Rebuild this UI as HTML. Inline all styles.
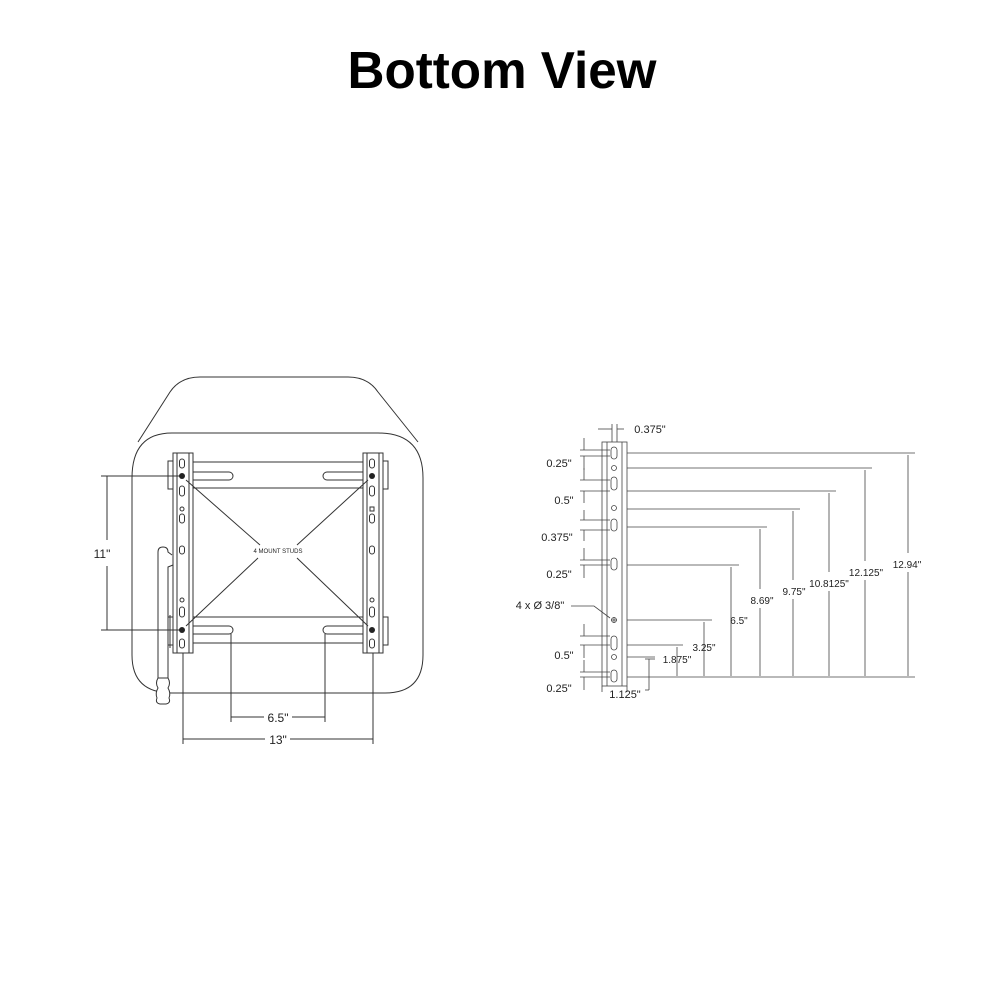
<!DOCTYPE html>
<html><head><meta charset="utf-8"><style>
html,body{margin:0;padding:0;background:#fff;}
svg{display:block;}
text{font-family:"Liberation Sans",sans-serif;fill:#222;}
</style></head><body>
<svg width="1000" height="1000" viewBox="0 0 1000 1000" xmlns="http://www.w3.org/2000/svg">
<text x="502" y="88" font-size="52" font-weight="bold" text-anchor="middle" textLength="309" lengthAdjust="spacingAndGlyphs" style="fill:#000">Bottom View</text>

<g fill="none" stroke="#333" stroke-width="1">
<!-- back shape -->
<path d="M138,442 L170,392 Q180,377 200,377 L348,377 Q368,377 378,392 L418,442"/>
<!-- front rounded body -->
<path d="M182,433 L378,433 Q423,433 423,478 L423,655 Q423,693 385,693 L172,693 Q132,693 132,655 L132,478 Q132,433 172,433 Z"/>
<!-- rails -->
<line x1="193" y1="462" x2="363" y2="462"/>
<line x1="193" y1="488" x2="363" y2="488"/>
<line x1="193" y1="617" x2="363" y2="617"/>
<line x1="193" y1="643" x2="363" y2="643"/>
<!-- slots top -->
<path d="M193,472 L229,472 A4,4 0 0 1 229,480 L193,480"/>
<path d="M363,472 L327,472 A4,4 0 0 0 327,480 L363,480"/>
<!-- slots bottom -->
<path d="M193,626 L229,626 A4,4 0 0 1 229,634 L193,634"/>
<path d="M363,626 L327,626 A4,4 0 0 0 327,634 L363,634"/>
<!-- side tabs -->
<rect x="168" y="461" width="5" height="28"/>
<rect x="383" y="461" width="5" height="28"/>
<rect x="168" y="617" width="5" height="28"/>
<rect x="383" y="617" width="5" height="28"/>
<!-- brackets -->
<rect x="173" y="453" width="20" height="200"/>
<line x1="177" y1="453" x2="177" y2="653"/><line x1="189" y1="453" x2="189" y2="653"/>
<rect x="363" y="453" width="20" height="200"/>
<line x1="367" y1="453" x2="367" y2="653"/><line x1="379" y1="453" x2="379" y2="653"/>
<!-- bracket holes -->
<g>
<rect x="179.5" y="459" width="5" height="9" rx="2.5"/>
<rect x="179.5" y="486" width="5" height="10" rx="2.5"/>
<circle cx="182" cy="509" r="2"/>
<rect x="179.5" y="514" width="5" height="9" rx="2.5"/>
<rect x="179.5" y="546" width="5" height="8" rx="2.5"/>
<circle cx="182" cy="600" r="2"/>
<rect x="179.5" y="607" width="5" height="10" rx="2.5"/>
<rect x="179.5" y="639" width="5" height="9" rx="2.5"/>
<rect x="369.5" y="459" width="5" height="9" rx="2.5"/>
<rect x="369.5" y="486" width="5" height="10" rx="2.5"/>
<rect x="370" y="507" width="4" height="4"/>
<rect x="369.5" y="514" width="5" height="9" rx="2.5"/>
<rect x="369.5" y="546" width="5" height="8" rx="2.5"/>
<circle cx="372" cy="600" r="2"/>
<rect x="369.5" y="607" width="5" height="10" rx="2.5"/>
<rect x="369.5" y="639" width="5" height="9" rx="2.5"/>
</g>
<!-- X lines -->
<line x1="186" y1="480" x2="260" y2="545"/>
<line x1="368" y1="480" x2="297" y2="545"/>
<line x1="186" y1="626" x2="258" y2="558"/>
<line x1="368" y1="626" x2="297" y2="558"/>
<!-- lever -->
<path d="M158,700 L158,552 Q158,547 163,547 Q168,547 168,552 L172,555"/>
<path d="M168,700 L168,567 L173,565"/>
<line x1="170" y1="615" x2="170" y2="648"/>
<path d="M158,678 Q155,683 158,688 Q155,693 157,698 Q155,703 160,704 L166,704 Q171,703 169,698 Q171,693 168,688 Q171,683 168,678 Z" fill="#fff"/>
<!-- dim 11 -->
<line x1="101" y1="476" x2="180" y2="476"/>
<line x1="101" y1="630" x2="180" y2="630"/>
<line x1="107" y1="476" x2="107" y2="540"/>
<line x1="107" y1="566" x2="107" y2="630"/>
<!-- dim 6.5 and 13 -->
<line x1="231" y1="634" x2="231" y2="722"/>
<line x1="325" y1="634" x2="325" y2="722"/>
<line x1="231" y1="717" x2="264" y2="717"/>
<line x1="292" y1="717" x2="325" y2="717"/>
<line x1="183" y1="653" x2="183" y2="744"/>
<line x1="373" y1="653" x2="373" y2="744"/>
<line x1="183" y1="739" x2="265" y2="739"/>
<line x1="290" y1="739" x2="373" y2="739"/>
</g>
<g fill="#222" stroke="none">
<circle cx="182" cy="476" r="3"/><circle cx="182" cy="630" r="3"/>
<circle cx="372" cy="476" r="3"/><circle cx="372" cy="630" r="3"/>
</g>
<text x="278" y="553" font-size="6" text-anchor="middle">4 MOUNT STUDS</text>
<text x="107" y="558" font-size="12" text-anchor="middle" style="fill:#fff;stroke:none">.</text>
<text x="102" y="558" font-size="12" text-anchor="middle">11"</text>
<text x="278" y="722" font-size="12" text-anchor="middle">6.5"</text>
<text x="278" y="744" font-size="12" text-anchor="middle">13"</text>

<!-- RIGHT DIAGRAM -->
<g fill="none" stroke="#444" stroke-width="0.8">
<rect x="602" y="442" width="25" height="244"/>
<line x1="607" y1="442" x2="607" y2="686"/><line x1="622" y1="442" x2="622" y2="686"/>
<line x1="612" y1="424" x2="612" y2="442"/><line x1="617" y1="424" x2="617" y2="442"/>
<line x1="598" y1="429" x2="612" y2="429"/><line x1="617" y1="429" x2="624" y2="429"/>
<rect x="611" y="447" width="6" height="12" rx="3"/>
<circle cx="614" cy="468" r="2.5"/>
<rect x="611" y="477" width="6" height="13" rx="3"/>
<circle cx="614" cy="508" r="2.5"/>
<rect x="611" y="519" width="6" height="12" rx="3"/>
<rect x="611" y="558" width="6" height="12" rx="3"/>
<circle cx="614" cy="620" r="2.5"/>
<line x1="611" y1="620" x2="617" y2="620"/><line x1="614" y1="617" x2="614" y2="623"/>
<rect x="611" y="636" width="6" height="14" rx="3"/>
<circle cx="614" cy="657" r="2.5"/>
<rect x="611" y="670" width="6" height="12" rx="3"/>
<!-- horizontal ref lines -->
<line x1="627" y1="453" x2="915" y2="453"/>
<line x1="627" y1="468" x2="872" y2="468"/>
<line x1="627" y1="491" x2="836" y2="491"/>
<line x1="627" y1="509" x2="800" y2="509"/>
<line x1="627" y1="527" x2="767" y2="527"/>
<line x1="627" y1="565" x2="739" y2="565"/>
<line x1="627" y1="620" x2="712" y2="620"/>
<line x1="627" y1="645" x2="683" y2="645"/>
<line x1="627" y1="657" x2="655" y2="657"/>
<line x1="627" y1="677" x2="915" y2="677"/>
<!-- vertical dim lines -->
<line x1="908" y1="455" x2="908" y2="553"/><line x1="908" y1="572" x2="908" y2="676"/>
<line x1="865" y1="470" x2="865" y2="561"/><line x1="865" y1="580" x2="865" y2="676"/>
<line x1="829" y1="493" x2="829" y2="572"/><line x1="829" y1="591" x2="829" y2="676"/>
<line x1="793" y1="511" x2="793" y2="580"/><line x1="793" y1="599" x2="793" y2="676"/>
<line x1="760" y1="529" x2="760" y2="589"/><line x1="760" y1="608" x2="760" y2="676"/>
<line x1="731" y1="567" x2="731" y2="676"/>
<line x1="704" y1="622" x2="704" y2="676"/>
<line x1="677" y1="647" x2="677" y2="676"/>
<line x1="649" y1="659" x2="649" y2="690"/><line x1="645" y1="659" x2="655" y2="659"/>
<line x1="649" y1="690" x2="645" y2="690"/>
<!-- left pitch ticks -->
<g>
<line x1="580" y1="450" x2="610" y2="450"/><line x1="580" y1="456" x2="610" y2="456"/>
<line x1="584" y1="438" x2="584" y2="450"/><line x1="584" y1="456" x2="584" y2="470"/>
<line x1="580" y1="480" x2="610" y2="480"/><line x1="580" y1="491" x2="610" y2="491"/>
<line x1="584" y1="468" x2="584" y2="480"/><line x1="584" y1="491" x2="584" y2="503"/>
<line x1="580" y1="520" x2="610" y2="520"/><line x1="580" y1="530" x2="610" y2="530"/>
<line x1="584" y1="510" x2="584" y2="520"/><line x1="584" y1="530" x2="584" y2="541"/>
<line x1="580" y1="560" x2="610" y2="560"/><line x1="580" y1="565" x2="610" y2="565"/>
<line x1="584" y1="548" x2="584" y2="560"/><line x1="584" y1="565" x2="584" y2="578"/>
<line x1="580" y1="636" x2="610" y2="636"/><line x1="580" y1="645" x2="610" y2="645"/>
<line x1="584" y1="624" x2="584" y2="636"/><line x1="584" y1="645" x2="584" y2="658"/>
<line x1="580" y1="672" x2="610" y2="672"/><line x1="580" y1="677" x2="610" y2="677"/>
<line x1="584" y1="660" x2="584" y2="672"/><line x1="584" y1="677" x2="584" y2="690"/>
</g>
<path d="M571,606 L594,606 L610,618"/>
<line x1="602" y1="686" x2="602" y2="692"/><line x1="627" y1="686" x2="627" y2="692"/>
</g>
<g font-size="11" fill="#333">
<text x="650" y="433" text-anchor="middle">0.375"</text>
<text x="559" y="467" text-anchor="middle">0.25"</text>
<text x="564" y="504" text-anchor="middle">0.5"</text>
<text x="557" y="541" text-anchor="middle">0.375"</text>
<text x="559" y="578" text-anchor="middle">0.25"</text>
<text x="540" y="609" text-anchor="middle">4 x Ø 3/8"</text>
<text x="564" y="659" text-anchor="middle">0.5"</text>
<text x="559" y="692" text-anchor="middle">0.25"</text>
<text x="625" y="698" text-anchor="middle">1.125"</text>
</g>
<g font-size="10" fill="#333" text-anchor="middle">
<text x="907" y="568">12.94"</text>
<text x="866" y="576">12.125"</text>
<text x="829" y="587">10.8125"</text>
<text x="794" y="595">9.75"</text>
<text x="762" y="604">8.69"</text>
<text x="739" y="624">6.5"</text>
<text x="704" y="651">3.25"</text>
<text x="677" y="663">1.875"</text>
</g>
</svg>
</body></html>
